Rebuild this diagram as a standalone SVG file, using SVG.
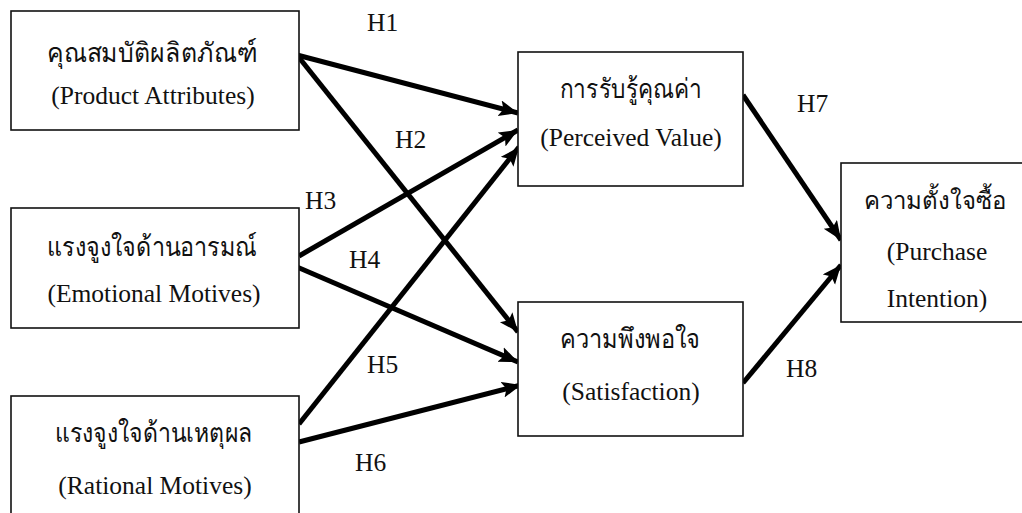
<svg xmlns="http://www.w3.org/2000/svg" width="1022" height="513" viewBox="0 0 1022 513">
<style>
.box{fill:#fff;stroke:#111;stroke-width:1.6}
.t{font-family:"Liberation Serif","Times New Roman",serif;font-size:25.5px;fill:#111;text-anchor:middle}
.th{font-family:"Liberation Serif",serif;font-size:27px;fill:#111;text-anchor:middle}
.lbl{font-family:"Liberation Serif","Times New Roman",serif;font-size:25.5px;fill:#111}
.c{stroke:#000;stroke-width:5;fill:none;marker-end:url(#ah)}
</style>
<defs>
<marker id="ah" markerUnits="userSpaceOnUse" markerWidth="22" markerHeight="18" refX="19" refY="8" orient="auto">
<path d="M0,0 L19,8 L0,16 L4,8 Z" fill="#000"/>
</marker>
</defs>
<rect width="1022" height="513" fill="#fff"/>
<g id="connectors">
<line class="c" x1="297" y1="55" x2="518" y2="113"/>
<line class="c" x1="297" y1="55" x2="518" y2="332"/>
<line class="c" x1="299" y1="256" x2="518" y2="130"/>
<line class="c" x1="297" y1="267" x2="518" y2="362"/>
<line class="c" x1="299" y1="424" x2="519" y2="147"/>
<line class="c" x1="299" y1="442" x2="521" y2="385"/>
<line class="c" x1="743" y1="95" x2="841" y2="240"/>
<line class="c" x1="743" y1="383" x2="841" y2="265"/>
</g>
<g id="labels">
<text class="lbl" x="367" y="31">H1</text>
<text class="lbl" x="395" y="148">H2</text>
<text class="lbl" x="305" y="209">H3</text>
<text class="lbl" x="349" y="268">H4</text>
<text class="lbl" x="367" y="373">H5</text>
<text class="lbl" x="355" y="471">H6</text>
<text class="lbl" x="797" y="112">H7</text>
<text class="lbl" x="786" y="377">H8</text>
</g>
<g id="product">
<rect class="box" x="11" y="11" width="288" height="119"/>
<text class="th" x="152" y="62" textLength="210" lengthAdjust="spacingAndGlyphs">คุณสมบัติผลิตภัณฑ์</text>
<text class="t" x="153" y="104">(Product Attributes)</text>
</g>
<g id="emotional">
<rect class="box" x="11" y="208" width="288" height="120"/>
<text class="th" x="152" y="256" textLength="210" lengthAdjust="spacingAndGlyphs">แรงจูงใจด้านอารมณ์</text>
<text class="t" x="154" y="302">(Emotional Motives)</text>
</g>
<g id="rational">
<rect class="box" x="11" y="396" width="288" height="130"/>
<text class="th" x="154" y="442" textLength="198" lengthAdjust="spacingAndGlyphs">แรงจูงใจด้านเหตุผล</text>
<text class="t" x="155" y="494">(Rational Motives)</text>
</g>
<g id="perceived">
<rect class="box" x="518" y="52" width="225" height="134"/>
<text class="th" x="631" y="98" textLength="142" lengthAdjust="spacingAndGlyphs">การรับรู้คุณค่า</text>
<text class="t" x="631" y="146">(Perceived Value)</text>
</g>
<g id="satisfaction">
<rect class="box" x="518" y="302" width="225" height="134"/>
<text class="th" x="630" y="348" textLength="140" lengthAdjust="spacingAndGlyphs">ความพึงพอใจ</text>
<text class="t" x="631" y="400">(Satisfaction)</text>
</g>
<g id="purchase">
<rect class="box" x="841" y="163" width="182" height="159"/>
<text class="th" x="935" y="209" style="font-size:24px">ความตั้งใจซื้อ</text>
<text class="t" x="937" y="260">(Purchase</text>
<text class="t" x="937" y="307">Intention)</text>
</g>
</svg>
